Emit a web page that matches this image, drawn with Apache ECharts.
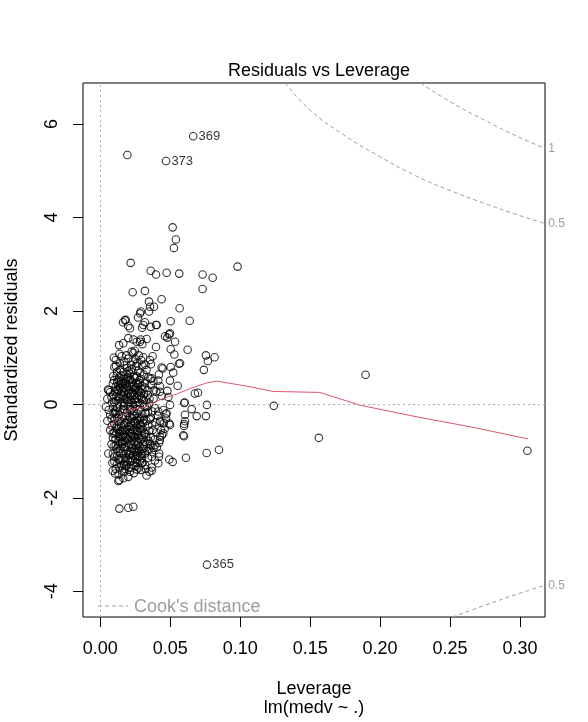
<!DOCTYPE html>
<html>
<head>
<meta charset="utf-8">
<script src="https://cdn.jsdelivr.net/npm/echarts@6/dist/echarts.min.js"></script>
<style>
  html, body { margin: 0; padding: 0; background: #fff; }
  #main { width: 588px; height: 722px; }
</style>
</head>
<body>
<div id="main"></div>
<script>
// leverage, standardized residual
var obsPoints = [
    [0.0193, 5.34],
    [0.0517, 3.79], [0.054, 3.53], [0.0526, 3.35], [0.0217, 3.03], [0.0981, 2.95], [0.036, 2.86],
    [0.0398, 2.78], [0.0474, 2.82], [0.0564, 2.80], [0.0731, 2.78], [0.0803, 2.71], [0.0731, 2.47],
    [0.0231, 2.40], [0.0319, 2.43], [0.0438, 2.25], [0.0348, 2.20], [0.0384, 2.09], [0.0567, 2.06],
    [0.0289, 1.99], [0.0348, 1.99], [0.0269, 1.86], [0.0181, 1.81], [0.0162, 1.76], [0.0319, 1.76],
    [0.0503, 1.78], [0.0639, 1.79], [0.02, 1.68], [0.0212, 1.63], [0.0298, 1.64], [0.036, 1.66],
    [0.0398, 1.70], [0.0462, 1.46], [0.0491, 1.50], [0.0479, 1.43], [0.0534, 1.34], [0.02, 1.42],
    [0.0236, 1.39], [0.0289, 1.39], [0.0331, 1.40], [0.0134, 1.27], [0.026, 1.34], [0.03, 1.29],
    [0.0398, 1.23], [0.0236, 1.10], [0.0503, 1.18], [0.0529, 1.07], [0.0624, 1.17], [0.0755, 1.05],
    [0.0817, 1.01], [0.0769, 0.93], [0.074, 0.74], [0.057, 0.88], [0.0096, 1.0], [0.0153, 1.03],
    [0.0307, 1.01], [0.0374, 1.03], [0.0362, 0.86], [0.0438, 0.79], [0.0503, 0.80], [0.0562, 0.87],
    [0.0521, 0.68], [0.0419, 0.64], [0.0343, 0.58], [0.0379, 0.50], [0.0498, 0.51], [0.0553, 0.40],
    [0.0426, 0.39], [0.0479, 0.29], [0.0676, 0.235], [0.0698, 0.25], [0.0055, 0.32], [0.0093, 0.61],
    [0.1896, 0.634],
    [0.0603, 0.04], [0.0762, -0.01], [0.124, -0.03], [0.0653, -0.10], [0.0605, -0.22], [0.0689, -0.25],
    [0.0755, -0.25], [0.0605, -0.36], [0.0598, -0.46], [0.0598, -0.68], [0.1562, -0.715], [0.0848, -0.97],
    [0.076, -1.04], [0.0612, -1.14], [0.3053, -0.99],
    [0.06, 0.03], [0.0498, -0.01], [0.0474, -0.19], [0.0493, -0.41], [0.0426, -0.35], [0.045, -0.62],
    [0.0426, -0.76], [0.0355, -0.84], [0.0421, -1.05], [0.0493, -1.18], [0.0517, -1.23], [0.0367, -1.35],
    [0.0367, -1.42], [0.0414, -1.26], [0.0303, -1.25], [0.026, -1.39], [0.0212, -1.44], [0.0164, -1.58],
    [0.0136, -1.62], [0.0089, -1.42], [0.0136, -2.23], [0.02, -2.21], [0.0236, -2.19],
    [0.0446, 0.77], [0.0414, 0.51], [0.0367, 0.56], [0.0486, 0.16], [0.0426, 0.27], [0.0164, 1.31],
    [0.0224, 1.13], [0.0355, 0.95], [0.0284, 1.34], [0.0307, 1.70], [0.0403, 1.70], [0.0176, 1.80],
    [0.0284, 1.95], [0.0355, 2.09], [0.0498, 1.52],
    [0.0419, -1.12], [0.0129, -1.64], [0.0057, -1.05], [0.0593, -0.66], [0.06, -0.42], [0.0469, -0.21],
    [0.0498, -0.44], [0.0426, -0.69], [0.0391, -0.87], [0.0296, -1.26],
    // dense cluster
    [0.011, 0.95], [0.014, 0.88], [0.017, 0.92], [0.019, 0.78], [0.022, 0.85], [0.025, 0.97], [0.027, 0.72],
    [0.030, 0.83], [0.012, 0.70], [0.015, 0.62], [0.018, 0.55], [0.021, 0.66], [0.024, 0.59], [0.028, 0.52],
    [0.031, 0.64], [0.033, 0.74], [0.010, 0.80], [0.013, 0.52], [0.020, 0.98], [0.026, 0.60],
    [0.009, 0.45], [0.011, 0.38], [0.013, 0.29], [0.015, 0.44], [0.016, 0.18], [0.018, 0.35], [0.019, 0.08],
    [0.021, 0.41], [0.022, 0.22], [0.023, 0.03], [0.025, 0.31], [0.026, 0.14], [0.028, 0.46], [0.029, 0.25],
    [0.031, 0.09], [0.032, 0.36], [0.034, 0.20], [0.036, 0.42], [0.038, 0.12], [0.040, 0.28], [0.008, 0.15],
    [0.010, 0.05], [0.012, 0.48], [0.014, 0.11], [0.017, 0.26], [0.020, 0.16], [0.024, 0.39], [0.027, 0.05],
    [0.030, 0.33], [0.035, 0.02], [0.044, 0.18], [0.007, 0.26],
    [0.006, -0.12], [0.008, -0.30], [0.009, -0.05], [0.010, -0.42], [0.011, -0.20], [0.012, -0.08],
    [0.013, -0.36], [0.014, -0.15], [0.015, -0.47], [0.016, -0.26], [0.017, -0.03], [0.018, -0.40],
    [0.019, -0.18], [0.020, -0.33], [0.021, -0.09], [0.022, -0.45], [0.023, -0.22], [0.024, -0.14],
    [0.025, -0.38], [0.026, -0.02], [0.027, -0.29], [0.028, -0.11], [0.029, -0.44], [0.030, -0.21],
    [0.032, -0.06], [0.033, -0.35], [0.034, -0.17], [0.036, -0.28], [0.037, -0.43], [0.039, -0.08],
    [0.041, -0.24], [0.043, -0.37], [0.045, -0.12], [0.047, -0.30], [0.007, -0.22], [0.012, -0.28],
    [0.017, -0.44], [0.021, -0.28], [0.026, -0.47], [0.031, -0.33],
    [0.007, -0.55], [0.009, -0.72], [0.010, -0.61], [0.011, -0.88], [0.012, -0.53], [0.013, -0.69],
    [0.014, -0.95], [0.015, -0.58], [0.016, -0.80], [0.017, -0.64], [0.018, -0.91], [0.019, -0.52],
    [0.020, -0.75], [0.021, -0.60], [0.022, -0.86], [0.023, -0.68], [0.024, -0.97], [0.025, -0.56],
    [0.026, -0.79], [0.027, -0.65], [0.028, -0.90], [0.029, -0.54], [0.030, -0.73], [0.032, -0.62],
    [0.033, -0.84], [0.035, -0.57], [0.036, -0.70], [0.038, -0.93], [0.040, -0.60], [0.042, -0.82],
    [0.044, -0.66], [0.046, -0.52], [0.008, -0.85], [0.013, -0.78], [0.018, -0.70], [0.022, -0.52],
    [0.027, -0.82], [0.031, -0.95],
    [0.009, -1.05], [0.010, -1.22], [0.011, -1.38], [0.012, -1.10], [0.013, -1.50], [0.014, -1.18],
    [0.015, -1.31], [0.016, -1.04], [0.017, -1.45], [0.018, -1.15], [0.019, -1.28], [0.020, -1.55],
    [0.021, -1.08], [0.022, -1.36], [0.023, -1.20], [0.024, -1.47], [0.025, -1.02], [0.026, -1.25],
    [0.028, -1.12], [0.029, -1.40], [0.030, -1.06], [0.032, -1.30], [0.034, -1.14], [0.035, -1.44],
    [0.037, -1.02], [0.039, -1.20], [0.033, -1.52],
    [0.0125, 0.02], [0.0135, -0.62], [0.0145, 0.22], [0.0155, -0.85], [0.0165, 0.36], [0.0175, -1.22],
    [0.0185, 0.12], [0.0195, -0.98], [0.0205, 0.30], [0.0215, -0.70], [0.0225, -0.30], [0.0235, -1.10],
    [0.0245, 0.10], [0.0255, -0.88], [0.0265, 0.24], [0.0275, -1.35], [0.0285, 0.02], [0.0295, -0.65],
    [0.0115, -0.95], [0.0105, -0.15], [0.0135, 0.58], [0.0165, 0.70], [0.0195, 0.58], [0.0225, 0.75],
    [0.0255, 0.82], [0.0285, 0.68], [0.0115, 0.18], [0.0145, -1.05], [0.0175, -0.12], [0.0205, -1.35],
    [0.0235, -0.55], [0.0265, -1.12], [0.0095, -0.90], [0.0085, 0.05],
    [0.004, -0.05], [0.005, 0.12], [0.005, -0.35], [0.006, 0.30],
    [0.0098, 0.52], [0.0118, 0.62], [0.0128, 0.40], [0.0148, 0.50], [0.0158, 0.30], [0.0168, 0.55],
    [0.0178, 0.44], [0.0188, 0.66], [0.0198, 0.24], [0.0208, 0.52], [0.0218, 0.10], [0.0228, 0.48],
    [0.0238, 0.20], [0.0248, 0.56], [0.0258, 0.36], [0.0268, 0.44], [0.0278, 0.18], [0.0288, 0.55],
    [0.0298, 0.12], [0.0318, 0.46], [0.0338, 0.30], [0.0358, 0.55],
    [0.0092, 0.20], [0.0102, -0.30], [0.0112, 0.08], [0.0122, -0.45], [0.0132, 0.15], [0.0142, -0.36],
    [0.0152, 0.04], [0.0162, -0.55], [0.0172, 0.12], [0.0182, -0.25], [0.0192, 0.38], [0.0202, -0.48],
    [0.0212, 0.18], [0.0222, -0.12], [0.0232, 0.26], [0.0242, -0.36], [0.0252, 0.05], [0.0262, -0.20],
    [0.0272, 0.32], [0.0282, -0.42], [0.0292, 0.15], [0.0302, -0.52], [0.0312, 0.22], [0.0322, -0.18],
    [0.0342, -0.45], [0.0352, 0.12], [0.0372, -0.15], [0.0382, 0.30],
    [0.0088, -0.62], [0.0098, -1.12], [0.0108, -0.75], [0.0118, -1.28], [0.0128, -0.88], [0.0138, -1.35],
    [0.0148, -0.70], [0.0158, -1.15], [0.0168, -0.92], [0.0178, -1.38], [0.0188, -0.82], [0.0198, -1.18],
    [0.0208, -0.62], [0.0218, -1.00], [0.0228, -0.78], [0.0238, -1.30], [0.0248, -0.70], [0.0258, -1.08],
    [0.0268, -0.58], [0.0278, -1.00], [0.0288, -0.76], [0.0298, -1.15], [0.0308, -0.85], [0.0318, -1.05],
    [0.0328, -0.70], [0.0348, -0.95], [0.0368, -1.12], [0.0388, -0.75],
    [0.0082, -0.45], [0.0086, -1.25], [0.0094, -0.18], [0.0106, -1.48], [0.0114, -0.62], [0.0124, -1.00],
    [0.0134, -0.22], [0.0144, -0.82], [0.0154, -1.42], [0.0164, -0.10], [0.0174, -0.78], [0.0184, -1.05],
    [0.0194, -0.38], [0.0204, -0.88], [0.0214, -1.22], [0.0224, -0.62], [0.0234, -0.02], [0.0244, -0.80],
    [0.0254, -1.32], [0.0264, -0.35], [0.0274, -0.72], [0.0284, -1.22], [0.0294, -0.28], [0.0304, -0.95],
    [0.0314, -0.62], [0.0324, -1.38], [0.0334, -0.05], [0.0344, -0.78], [0.0354, -0.32], [0.0364, -0.88],
    [0.0374, -0.55], [0.0394, -0.38], [0.0404, -0.92], [0.0414, -0.15], [0.0434, -0.55], [0.0454, -0.40],
    [0.0112, 0.82], [0.0142, 0.75], [0.0172, 0.84], [0.0202, 0.72], [0.0232, 0.92], [0.0262, 0.88],
    [0.0292, 0.95], [0.0322, 0.85], [0.0136, 1.08], [0.0186, 1.05], [0.0246, 1.15], [0.0276, 1.05],
    [0.0103, 0.28], [0.0117, -0.05], [0.0131, -1.18], [0.0139, 0.35], [0.0151, -0.28], [0.0159, -0.68],
    [0.0167, -1.28], [0.0171, 0.02], [0.0179, -0.55], [0.0183, 0.48], [0.0191, -0.72], [0.0199, -0.05],
    [0.0207, -1.05], [0.0211, 0.55], [0.0219, -0.40], [0.0227, -0.95], [0.0231, 0.38], [0.0239, -0.68],
    [0.0243, -0.25], [0.0251, -1.18], [0.0257, 0.45], [0.0263, -0.58], [0.0271, -0.95], [0.0277, 0.28],
    [0.0283, -0.32], [0.0291, -1.05], [0.0297, 0.40], [0.0306, -0.40], [0.0316, -0.80], [0.0326, 0.10],
    [0.0111, -0.50], [0.0121, 0.30], [0.0141, -0.58], [0.0161, 0.45], [0.0181, -1.32], [0.0201, 0.05],
    [0.0221, -1.15], [0.0241, 0.32], [0.0261, -1.00], [0.0281, -0.52], [0.0301, 0.00], [0.0336, -1.00]
];

var labeledObs = [[0.0664, 5.74, '369'], [0.047, 5.21, '373'], [0.0762, -3.43, '365']];

// lowess smoother through the residuals
var smoothLine = [
    [0.005, -0.535], [0.0117, -0.32], [0.0207, -0.11], [0.0307, -0.07], [0.0367, 0.02], [0.045, 0.13],
    [0.0546, 0.22], [0.064, 0.34], [0.076, 0.46], [0.0831, 0.50], [0.1046, 0.392], [0.1236, 0.278],
    [0.1569, 0.257], [0.1855, -0.015], [0.2236, -0.25], [0.2664, -0.49], [0.3057, -0.737]
];

// Cook's distance contours
var cook05Upper = [[0.132, 6.88], [0.15, 6.3], [0.175, 5.75], [0.2, 5.3], [0.225, 4.9], [0.25, 4.58],
    [0.275, 4.3], [0.3, 4.04], [0.318, 3.87]];
var cook05Lower = [[0.252, -4.55], [0.275, -4.3], [0.3, -4.04], [0.318, -3.87]];
var cook1Upper = [[0.229, 6.88], [0.25, 6.48], [0.275, 6.08], [0.3, 5.71], [0.318, 5.48]];

var xTicks = [0, 0.05, 0.10, 0.15, 0.20, 0.25, 0.30];
var yTicks = [-4, -2, 0, 2, 4, 6];

var FONT = 'Liberation Sans, Arial, sans-serif';
var GRAY = '#9e9e9e';

function contour(data, label) {
    return {
        type: 'line',
        data: data,
        smooth: true,
        symbol: 'none',
        silent: true,
        clip: false,
        lineStyle: { color: GRAY, width: 1, type: [4, 3] },
        endLabel: { show: true, formatter: label, distance: 3, color: GRAY, fontSize: 12, fontFamily: FONT },
        z: 1
    };
}

function draw() {
    var myChart = echarts.init(document.getElementById('main'), null, { renderer: 'canvas' });
    var labeled = labeledObs.map(function (o) {
        return { value: [o[0], o[1]], label: { show: true, formatter: o[2] } };
    });
    var option = {
        animation: false,
        textStyle: { fontFamily: FONT },
        title: {
            text: 'Residuals vs Leverage',
            left: 314,
            textAlign: 'center',
            top: 57,
            textStyle: { fontSize: 18, fontWeight: 'normal', color: '#000', fontFamily: FONT }
        },
        grid: {
            left: 83, right: 43, top: 83, bottom: 105,
            outerBoundsMode: 'none',
            containLabel: false,
            show: true, borderColor: '#000', borderWidth: 1, backgroundColor: 'transparent'
        },
        xAxis: {
            type: 'value',
            min: -0.0124,
            max: 0.3179,
            name: 'Leverage\nlm(medv ~ .)',
            nameLocation: 'middle',
            nameGap: 63,
            nameTextStyle: { fontSize: 18, color: '#000', lineHeight: 19, fontFamily: FONT },
            axisLine: { show: false, onZero: false },
            axisTick: { show: true, inside: false, length: 10, customValues: xTicks, lineStyle: { color: '#000' } },
            axisLabel: {
                customValues: xTicks, margin: 23, fontSize: 18, color: '#000',
                formatter: function (v) { return v.toFixed(2); }
            },
            splitLine: { show: false }
        },
        yAxis: {
            type: 'value',
            min: -4.55,
            max: 6.88,
            name: 'Standardized residuals',
            nameLocation: 'middle',
            nameGap: 62,
            nameRotate: 90,
            nameTextStyle: { fontSize: 18, color: '#000', fontFamily: FONT },
            axisLine: { show: false, onZero: false },
            axisTick: { show: true, inside: false, length: 10, customValues: yTicks, lineStyle: { color: '#000' } },
            axisLabel: { customValues: yTicks, margin: 22, fontSize: 18, color: '#000', rotate: 90 },
            splitLine: { show: false }
        },
        series: [
            {
                type: 'scatter',
                data: obsPoints.concat(labeled),
                symbol: 'circle',
                symbolSize: 7.5,
                itemStyle: { color: 'rgba(0,0,0,0)', borderColor: '#000', borderWidth: 1.1 },
                label: { position: 'right', distance: 1, color: '#000', fontSize: 13, fontFamily: FONT },
                markLine: {
                    silent: true,
                    symbol: 'none',
                    label: { show: false },
                    lineStyle: { color: '#b0b0b0', type: [2, 3], width: 1 },
                    data: [{ yAxis: 0 }, { xAxis: 0 }]
                },
                z: 3
            },
            {
                type: 'line',
                data: smoothLine,
                symbol: 'none',
                silent: true,
                lineStyle: { color: '#DF536B', width: 1 },
                z: 4
            },
            contour(cook05Upper, '0.5'),
            contour(cook05Lower, '0.5'),
            contour(cook1Upper, '1')
        ],
        graphic: [
            {
                type: 'line',
                shape: { x1: 98, y1: 606, x2: 128, y2: 606 },
                style: { stroke: GRAY, lineWidth: 1, lineDash: [4, 3] }
            },
            {
                type: 'text',
                x: 134, y: 607,
                style: { text: "Cook's distance", fill: GRAY, fontSize: 18, fontFamily: FONT, verticalAlign: 'middle' }
            }
        ]
    };
    myChart.setOption(option);
}

draw();
</script>
</body>
</html>
